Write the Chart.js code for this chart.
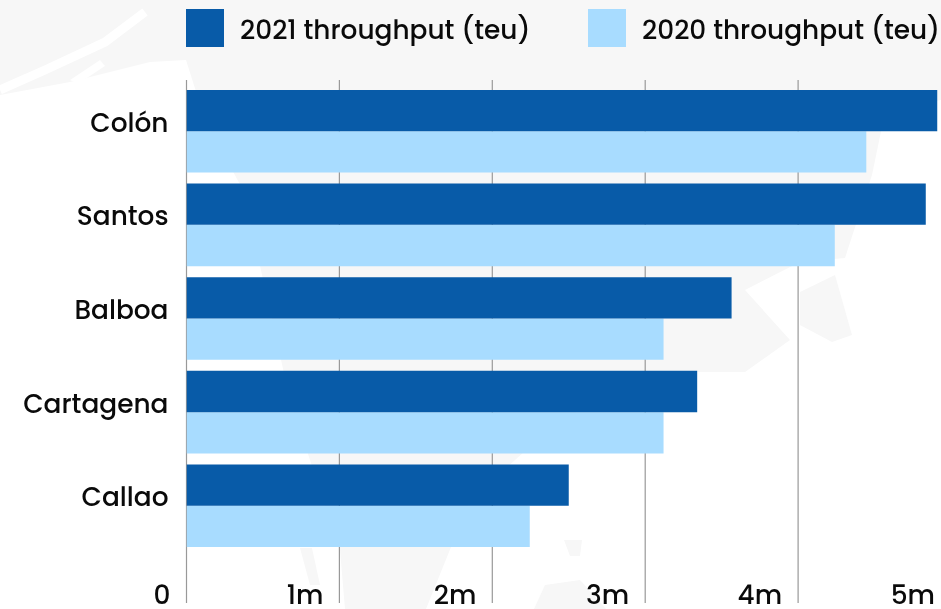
<!DOCTYPE html>
<html><head><meta charset="utf-8">
<style>html,body{margin:0;padding:0;background:#fff;overflow:hidden}#w{position:absolute;left:0;top:0;width:941px;height:609px;overflow:hidden}canvas{display:block;position:relative}svg{position:absolute;left:0;top:0}</style>
<script src="https://cdn.jsdelivr.net/npm/chart.js@4"></script></head>
<body><div id="w">
<svg width="941" height="609" fill="#f7f7f7">
<polygon points="0,0 941,0 941,100 885,112 872,175 845,258 800,262 745,290 790,340 745,372 660,372 560,420 470,500 426,609 345,609 340,550 290,400 243,190 205,120 186,60 150,62 70,82 0,95"/>
<polygon points="800,292 835,275 852,335 832,342 800,325"/>
<polygon points="300,548 312,548 320,585 310,585"/>
<polygon points="534,609 545,585 580,580 606,609"/>
<polygon points="564,540 582,540 580,556 570,556"/>
<polyline points="0,90 45,70 105,42 145,12" fill="none" stroke="#fff" stroke-width="9"/>
<polygon points="70,80 100,60 105,66 78,84" fill="#fff"/>
</svg>
<canvas id="c" width="953" height="609"></canvas></div>
<script>
const categories=["Colón","Santos","Balboa","Cartagena","Callao"];
const values2021=[4.91,4.835,3.565,3.34,2.5];
const values2020=[4.446,4.24,3.12,3.12,2.245];
const ticks=["0","1m","2m","3m","4m","5m"];
const font='Poppins,Lato,"Open Sans",sans-serif';
const gridAndLegend={id:'gridAndLegend',
 beforeDatasetsDraw(chart){
  const c=chart.ctx,x=chart.scales.x;
  c.save();c.strokeStyle="#999";c.lineWidth=1.2;
  x.ticks.forEach(t=>{const p=x.getPixelForValue(t.value);c.beginPath();c.moveTo(p,80);c.lineTo(p,603);c.stroke();});
  c.restore();
 },
 afterDraw(chart){
  const c=chart.ctx,slots=[186,588];
  c.save();c.font='500 26.4px '+font;c.textBaseline='middle';c.textAlign='left';
  chart.data.datasets.forEach((d,i)=>{
   c.fillStyle=d.backgroundColor;c.fillRect(slots[i],9,38,38);
   c.fillStyle="#0a0a0a";c.fillText(d.label,slots[i]+54,32);
  });
  c.restore();
 }};
new Chart(document.getElementById('c'),{type:'bar',plugins:[gridAndLegend],
data:{labels:categories,datasets:[
{label:"2021 throughput (teu)",data:values2021,backgroundColor:"#085ba8",barPercentage:1,categoryPercentage:.882},
{label:"2020 throughput (teu)",data:values2020,backgroundColor:"#a8dcff",barPercentage:1,categoryPercentage:.882}]},
options:{indexAxis:'y',responsive:false,animation:false,
layout:{padding:{left:0,right:2,top:84.4,bottom:0}},
plugins:{legend:{display:false},tooltip:{enabled:false}},
scales:{y:{afterFit:s=>{s.width=186.5},grid:{display:false},border:{display:false},
 ticks:{color:"#0a0a0a",font:{family:font,size:26.4,weight:500},padding:10,labelOffset:-6}},
x:{min:0,max:5,afterFit:s=>{s.height=56.4;s.paddingLeft=0;s.paddingRight=0},grid:{display:false},border:{display:false},
 ticks:{color:"#0a0a0a",stepSize:1,maxRotation:0,autoSkip:false,align:'end',labelOffset:-16,padding:21,font:{family:font,size:26.4,weight:500},callback:(v)=>ticks[v]}}}}});
</script></body></html>
